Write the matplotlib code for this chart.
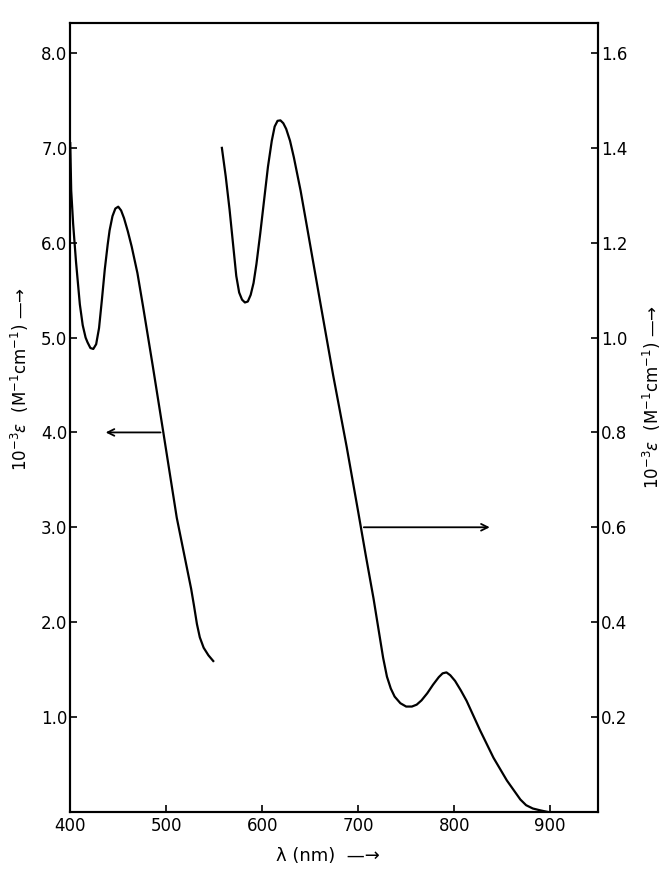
#!/usr/bin/env python

import numpy as np
import matplotlib.pyplot as plt

# band 1 (left axis)
wl_left = [400, 401, 403, 406, 410, 413, 416, 418, 421, 424, 427, 430, 433,
           436, 439, 441, 444, 447, 450, 453, 456, 460, 464, 470, 476, 486,
           497, 504, 511, 517, 522, 526, 529, 532, 535, 539, 544, 549]
eps_left = [7.05, 6.55, 6.2, 5.8, 5.35, 5.13, 5.0, 4.95, 4.89, 4.88, 4.93,
            5.1, 5.4, 5.72, 5.98, 6.13, 6.28, 6.36, 6.38, 6.34, 6.26, 6.12,
            5.96, 5.68, 5.32, 4.7, 4.0, 3.55, 3.1, 2.8, 2.55, 2.35, 2.17,
            1.98, 1.84, 1.73, 1.65, 1.59]

# band 2 (right axis)
wl_right = [558, 562, 566, 570, 573, 576, 579, 582, 585, 588, 591, 594, 598,
            602, 606, 610, 613, 616, 619, 622, 625, 629, 633, 640, 647, 660,
            674, 688, 700, 708, 716, 722, 726, 730, 734, 738, 744, 750, 756,
            761, 766, 772, 778, 784, 788, 792, 796, 801, 807, 813, 827, 841,
            855, 869, 875, 882, 890, 897]
eps_right = [1.40, 1.34, 1.27, 1.19, 1.13, 1.095, 1.08, 1.074, 1.076, 1.09,
             1.115, 1.155, 1.22, 1.29, 1.36, 1.415, 1.445, 1.457, 1.458,
             1.452, 1.44, 1.415, 1.38, 1.31, 1.23, 1.08, 0.92, 0.77, 0.633,
             0.54, 0.45, 0.375, 0.325, 0.285, 0.26, 0.243, 0.229, 0.222,
             0.222, 0.226, 0.235, 0.25, 0.268, 0.284, 0.292, 0.294, 0.288,
             0.276, 0.256, 0.234, 0.172, 0.114, 0.066, 0.026, 0.014, 0.007,
             0.003, 0.0]

x_ticks = [400, 500, 600, 700, 800, 900]
left_ticks = [1, 2, 3, 4, 5, 6, 7, 8]
right_ticks = [0.2, 0.4, 0.6, 0.8, 1.0, 1.2, 1.4, 1.6]

plt.rcParams['font.family'] = 'DejaVu Sans'
plt.rcParams['font.size'] = 12

fig = plt.figure(figsize=(6.69, 8.72), dpi=100)
ax = fig.add_axes([0.105, 0.069, 0.789, 0.905])
ax2 = ax.twinx()

ax.plot(wl_left, eps_left, color='black', lw=1.6)
ax2.plot(wl_right, eps_right, color='black', lw=1.6)

ax.set_xlim(400, 950)
ax.set_ylim(0, 8.32)
ax2.set_ylim(0, 8.32 / 5)

ax.set_xticks(x_ticks)
ax.set_xticklabels([str(v) for v in x_ticks])
ax.set_yticks(left_ticks)
ax.set_yticklabels(["%.1f" % v for v in left_ticks])
ax2.set_yticks(right_ticks)
ax2.set_yticklabels(["%.1f" % v for v in right_ticks])

ax.tick_params(axis='both', direction='in', length=5, width=1.2, pad=4,
               labelsize=12)
ax2.tick_params(axis='y', direction='in', length=5, width=1.2, pad=2,
                labelsize=12)
ax.tick_params(axis='y', pad=2)
for a in (ax, ax2):
    for s in a.spines.values():
        s.set_linewidth(1.5)

# arrows pointing to the relevant axes
ax.annotate('', xy=(434, 4.0), xytext=(497, 4.0),
            arrowprops=dict(arrowstyle='->', lw=1.3, color='black'))
ax2.annotate('', xy=(840, 0.6), xytext=(703, 0.6),
             arrowprops=dict(arrowstyle='->', lw=1.3, color='black'))

# axis labels with arrows
lab = r'$10^{-3}\epsilon\ \ (\mathrm{M}^{-1}\mathrm{cm}^{-1})$'
fig.text(0.03, 0.565, lab + u' \u2014\u2192', rotation=90, ha='center',
         va='center', fontsize=12)
fig.text(0.975, 0.545, lab + u' \u2014\u2192', rotation=90, ha='center',
         va='center', fontsize=12)
fig.text(0.49, 0.018, u'\u03bb (nm)  \u2014\u2192', ha='center',
         va='center', fontsize=13)

fig.savefig('out.png', dpi=100)
